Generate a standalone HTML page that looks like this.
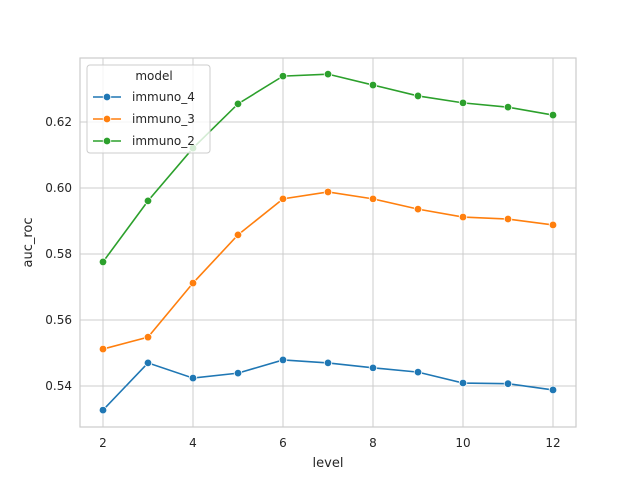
<!DOCTYPE html>
<html><head><meta charset="utf-8"><style>
body{margin:0;background:#fff;font-family:"Liberation Sans","DejaVu Sans",sans-serif}
svg text{font-family:"DejaVu Sans","Liberation Sans",sans-serif;fill:#262626}
</style></head><body>
<svg width="640" height="480">
<g id="plot"></g>
</svg>
<script>
const levels=[2,3,4,5,6,7,8,9,10,11,12];
const seriesNames=["immuno_4","immuno_3","immuno_2"];
const colors=["#1f77b4","#ff7f0e","#2ca02c"];
const immuno4=[0.5327,0.5470,0.5424,0.5439,0.5479,0.5470,0.5455,0.5442,0.5409,0.5407,0.5388];
const immuno3=[0.5512,0.5548,0.5712,0.5858,0.5967,0.5988,0.5967,0.5936,0.5912,0.5906,0.5888];
const immuno2=[0.5776,0.5961,0.6121,0.6255,0.6339,0.6345,0.6312,0.6279,0.6258,0.6245,0.6221];
const xTicks=[2,4,6,8,10,12];
const yTicks=[0.54,0.56,0.58,0.60,0.62];
const yTickLabels=["0.54","0.56","0.58","0.60","0.62"];
const L=80,R=576,T=58,B=427;
const xs=v=>103+(v-2)*45;
const ys=v=>386-(v-0.54)*3300;
const NS="http://www.w3.org/2000/svg";
const g=document.getElementById('plot');
function el(t,a,p){const e=document.createElementNS(NS,t);for(const k in a)e.setAttribute(k,a[k]);(p||g).appendChild(e);return e;}
xTicks.forEach(v=>{
 const l=el('line',{x1:xs(v),x2:xs(v),y1:T,y2:B,stroke:'#cccccc','stroke-width':1});
 
 
 const t=el('text',{x:xs(v),y:B+20,'text-anchor':'middle','font-size':12});t.textContent=v;
 
 
});
yTicks.forEach((v,i)=>{
 const l=el('line',{x1:L,x2:R,y1:ys(v),y2:ys(v),stroke:'#cccccc','stroke-width':1});
 
 
 const t=el('text',{x:L-8,y:ys(v)+4,'text-anchor':'end','font-size':12});t.textContent=yTickLabels[i];
 
 
});
const frame=el('rect',{x:L,y:T,width:R-L,height:B-T,fill:'none',stroke:'#cccccc','stroke-width':1.2});


const xl=el('text',{x:(L+R)/2,y:467,'text-anchor':'middle','font-size':13});xl.textContent='level';


const yl=el('text',{x:0,y:0,'text-anchor':'middle','font-size':13,transform:`translate(32,${(T+B)/2}) rotate(-90)`});yl.textContent='auc_roc';


[immuno4,immuno3,immuno2].forEach((vals,si)=>{
 const p=el('polyline',{points:vals.map((v,i)=>xs(levels[i])+','+ys(v)).join(' '),fill:'none',stroke:colors[si],'stroke-width':1.6});
 
 
 vals.forEach((v,i)=>{
  const c=el('circle',{cx:xs(levels[i]),cy:ys(v),r:3.8,fill:colors[si],stroke:'#fff','stroke-width':0.8});
  
  
 });
});
const lg=el('g',{});


el('rect',{x:87,y:65,width:123,height:88,rx:3,fill:'#fff','fill-opacity':0.8,stroke:'#cccccc'},lg);
const lt=el('text',{x:154,y:80,'text-anchor':'middle','font-size':12},lg);lt.textContent='model';


seriesNames.forEach((n,i)=>{
 const y=97+i*22;
 const e=el('g',{},lg);
 
 
 el('line',{x1:93,x2:121,y1:y,y2:y,stroke:colors[i],'stroke-width':1.6},e);
 el('circle',{cx:107,cy:y,r:3.8,fill:colors[i],stroke:'#fff','stroke-width':0.8},e);
 const t=el('text',{x:132,y:y+4,'font-size':12},e);t.textContent=n;
});
</script>
</body></html>
